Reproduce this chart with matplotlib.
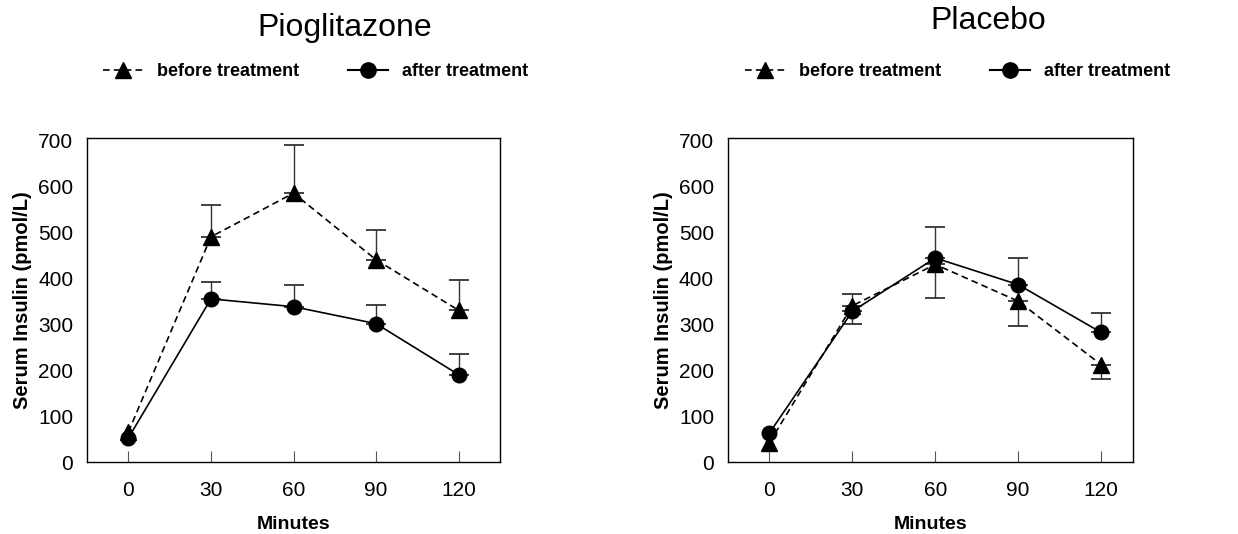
import matplotlib.pyplot as plt
from matplotlib.lines import Line2D

plt.rcParams['font.family'] = ['Liberation Sans', 'DejaVu Sans']

minutes = [0, 30, 60, 90, 120]

# Pioglitazone group
pio_before = [65, 490, 585, 440, 330]
pio_before_err = [0, 70, 105, 65, 65]
pio_after = [52, 355, 338, 301, 190]
pio_after_err = [0, 37, 47, 40, 45]

# Placebo group
pla_before = [42, 340, 430, 350, 212]
pla_before_err = [0, 40, 74, 55, 31]
pla_after = [63, 328, 444, 386, 282]
pla_after_err = [0, 37, 68, 58, 43]

yticks = [0, 100, 200, 300, 400, 500, 600, 700]

fig = plt.figure(figsize=(12.38, 5.34), dpi=100)
ax1 = fig.add_axes([0.0703, 0.1348, 0.3336, 0.6067])
ax2 = fig.add_axes([0.5880, 0.1348, 0.3271, 0.6067])

dash = (0, (4, 2.5))


def bars(ax, y, err, up):
    # only points that have an error bar
    xs = [m for m, e in zip(minutes, err) if e > 0]
    ys = [v for v, e in zip(y, err) if e > 0]
    es = [e for e in err if e > 0]
    zeros = [0] * len(es)
    yerr = [zeros, es] if up else [es, zeros]
    ax.errorbar(xs, ys, yerr=yerr, fmt='none', ecolor='#333333',
                elinewidth=1, capsize=7, capthick=1.3, zorder=2)


def draw(ax, before, before_err, after, after_err, before_up, xmax):
    bars(ax, before, before_err, before_up)
    bars(ax, after, after_err, True)
    ax.plot(minutes, before, color='black', linestyle=dash, linewidth=1.2,
            marker='^', markersize=11, zorder=3)
    ax.plot(minutes, after, color='black', linestyle='-', linewidth=1.2,
            marker='o', markersize=10.5, zorder=4)
    ax.set_xlim(-15, xmax)
    ax.set_ylim(0, 705)
    ax.set_xticks(minutes)
    ax.set_yticks(yticks)
    ax.tick_params(axis='x', direction='in', length=8, width=0.8, color='#555555',
                   labelsize=15, pad=14)
    ax.tick_params(axis='y', length=0, labelsize=15, pad=10)
    for s in ax.spines.values():
        s.set_linewidth(1)
    ax.set_xlabel('Minutes', fontsize=14, fontweight='bold', labelpad=11)
    ax.set_ylabel('Serum Insulin (pmol/L)', fontsize=14.5, fontweight='bold', labelpad=4)


draw(ax1, pio_before, pio_before_err, pio_after, pio_after_err, True, 135)
draw(ax2, pla_before, pla_before_err, pla_after, pla_after_err, False, 131.5)

fig.text(345 / 1238, 1 - 28 / 534, 'Pioglitazone', fontsize=23, ha='center', va='center')
fig.text(988 / 1238, 1 - 21 / 534, 'Placebo', fontsize=23, ha='center', va='center')

handles = [
    Line2D([], [], color='black', linestyle=dash, linewidth=1.2, marker='^', markersize=11),
    Line2D([], [], color='black', linestyle='-', linewidth=1.5, marker='o', markersize=11),
]
labels = ['before treatment', 'after treatment']
for x0 in (103 / 1238, 745 / 1238):
    fig.legend(handles, labels, loc='center left', bbox_to_anchor=(x0, 1 - 72 / 534),
               ncol=2, frameon=False, handlelength=2.2, handletextpad=0.8,
               columnspacing=2.7, borderaxespad=0, borderpad=0,
               prop={'weight': 'bold', 'size': 13})

fig.savefig('out.png', dpi=100)
